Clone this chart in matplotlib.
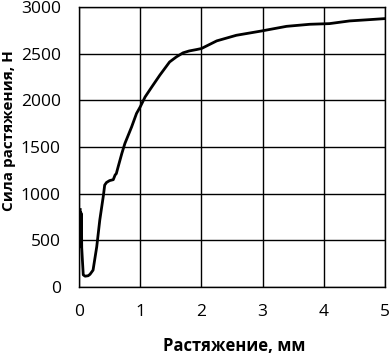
import matplotlib
matplotlib.use("Agg")
import matplotlib.pyplot as plt

# extension, mm
x = [0.02, 0.025, 0.03, 0.035, 0.04, 0.045, 0.055, 0.07, 0.10, 0.15, 0.18, 0.23, 0.29, 0.34,
     0.40, 0.42, 0.45, 0.50, 0.56, 0.59, 0.61, 0.64, 0.70, 0.75, 0.86, 0.94, 1.00, 1.08,
     1.19, 1.32, 1.48, 1.59, 1.70, 1.80, 1.92, 2.00, 2.14, 2.25, 2.57, 2.98, 3.39,
     3.77, 4.09, 4.42, 4.75, 5.00]
# tensile force, N
force = [830, 480, 800, 430, 780, 420, 300, 130, 115, 120, 135, 180, 430, 717,
         985, 1092, 1120, 1140, 1150, 1200, 1215, 1288, 1431, 1538, 1716, 1860, 1930, 2037,
         2145, 2270, 2412, 2466, 2510, 2530, 2545, 2556, 2602, 2638, 2698, 2744, 2794,
         2816, 2823, 2852, 2866, 2877]

x_ticks = [0, 1, 2, 3, 4, 5]
y_ticks = [0, 500, 1000, 1500, 2000, 2500, 3000]

plt.rcParams['font.family'] = ['Open Sans', 'DejaVu Sans']

fig = plt.figure(figsize=(3.89, 3.56), dpi=100)
ax = fig.add_axes([0.203, 0.194, 0.787, 0.786])
ax.plot(x, force, color="black", lw=2)
ax.set_xlim(0, 5)
ax.set_ylim(0, 3000)
ax.set_xticks(x_ticks)
ax.set_yticks(y_ticks)
ax.grid(True, color="black", lw=1)
ax.tick_params(length=0, labelsize=12.5)
ax.tick_params(axis="y", pad=13)
ax.tick_params(axis="x", pad=12)
for s in ax.spines.values():
    s.set_color("black")
    s.set_linewidth(1)
ax.set_xlabel("Растяжение, мм", fontsize=12, fontweight="bold")
ax.set_ylabel("Сила растяжения, Н", fontsize=11, fontweight="bold")
# label positions in axes coords
ax.xaxis.set_label_coords(0.507, -0.18)
ax.yaxis.set_label_coords(-0.205, 0.56)

fig.savefig("out.png", dpi=100)
